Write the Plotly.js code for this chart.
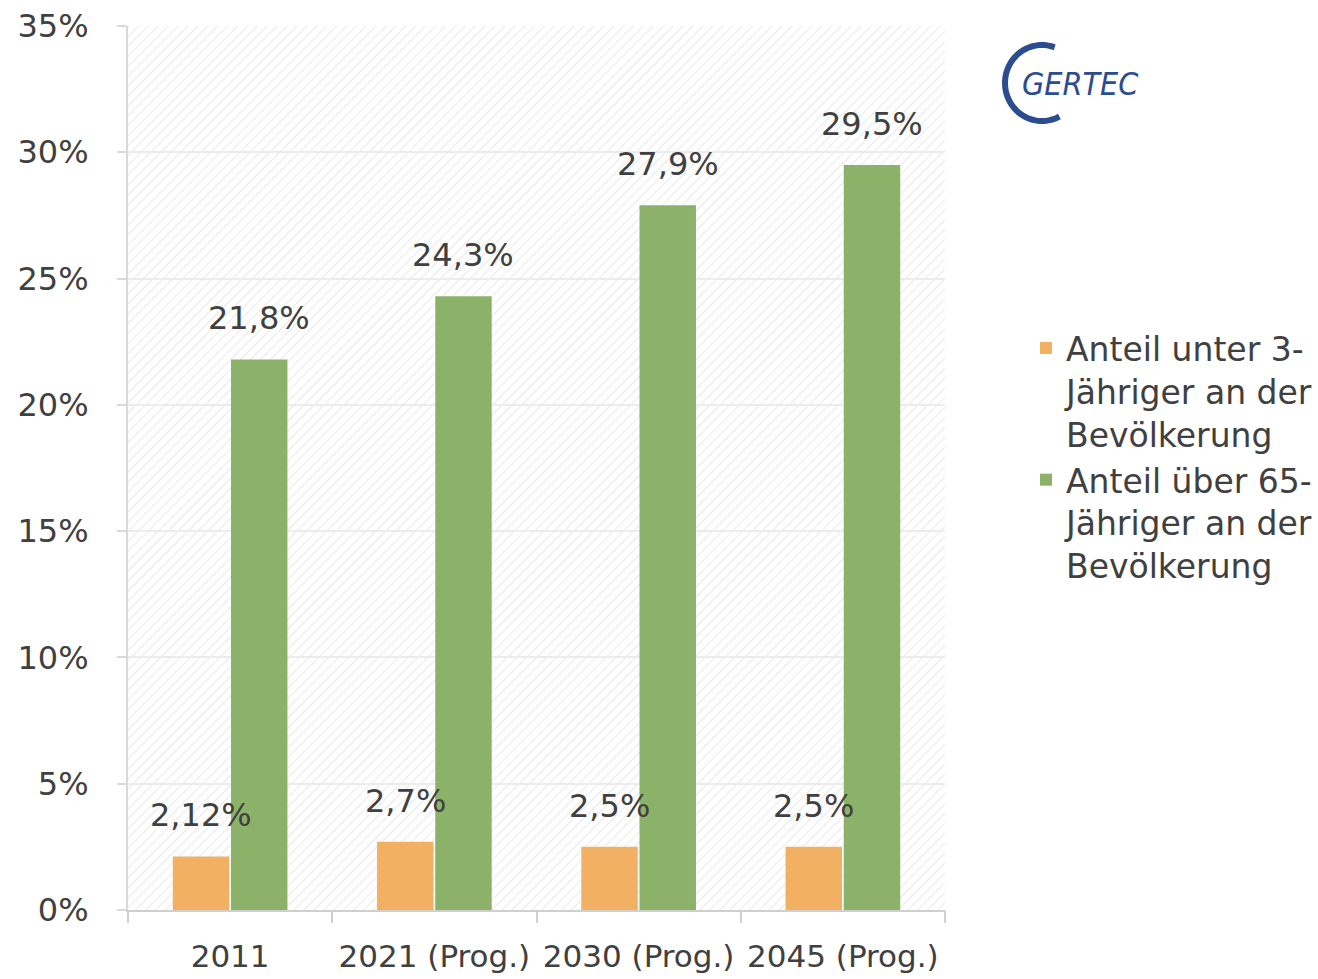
<!DOCTYPE html>
<html>
<head>
<meta charset="utf-8">
<script src="https://cdn.plot.ly/plotly-3.0.1.min.js"></script>
<style>
  html, body { margin: 0; padding: 0; background: #ffffff; }
  #chart { width: 1318px; height: 979px; }
</style>
</head>
<body>
<div id="chart"></div>
<script>
// ---- data ----
const categories = ["2011", "2021 (Prog.)", "2030 (Prog.)", "2045 (Prog.)"];
const seriesNames = [
  "Anteil unter 3-<br>Jähriger an der<br>Bevölkerung",
  "Anteil über 65-<br>Jähriger an der<br>Bevölkerung"
];
const under3 = [2.12, 2.7, 2.5, 2.5];
const over65 = [21.8, 24.3, 27.9, 29.5];
const yTickVals = [0, 5, 10, 15, 20, 25, 30, 35];
const logoText = "GERTEC";

// ---- layout constants ----
const W = 1318, H = 979;
const M = { l: 128, r: 373, t: 26, b: 69, autoexpand: false };
const PW = W - M.l - M.r, PH = H - M.t - M.b;
const px2x = p => (p - M.l) / PW;
const py2y = p => (H - M.b - p) / PH;

const FONT = "DejaVu Sans, Liberation Sans, Arial, sans-serif";
const TXT = "#404040";
const colors = ["#F2B063", "#8BB268"];

const fmt = v => String(v).replace(".", ",") + "%";
const idx = categories.map((c, i) => i);

const traces = [
  { type: "bar", name: seriesNames[0], x: idx, y: under3,
    marker: { color: colors[0] }, hoverinfo: "none" },
  { type: "bar", name: seriesNames[1], x: idx, y: over65,
    marker: { color: colors[1] }, hoverinfo: "none" }
];

// data labels
const annotations = [];
[under3, over65].forEach((vals, si) => {
  vals.forEach((v, i) => {
    annotations.push({
      x: i, y: v, xref: "x", yref: "y",
      text: fmt(v), showarrow: false,
      xshift: si === 0 ? -29 : 29, yshift: 20,
      yanchor: "bottom", xanchor: "center",
      font: { family: FONT, size: 32, color: TXT }
    });
  });
});

// logo text
annotations.push({
  xref: "paper", yref: "paper", x: px2x(1020), y: py2y(84),
  xanchor: "left", yanchor: "middle", showarrow: false,
  text: "<i>" + logoText + "</i>",
  font: { family: "Liberation Sans Narrow, DejaVu Sans Condensed, sans-serif", size: 32, color: "#2B4C8F" }
});

// logo arc (decoration): from top-right, counter-clockwise via left, to bottom-right
const cx = 1042, cy = 83, rx = 37, ry = 38;
const pts = [];
for (let deg = 70; deg <= 300; deg += 4) {
  const r = deg * Math.PI / 180;
  pts.push([cx + rx * Math.cos(r), cy - ry * Math.sin(r)]);
}
const arc = pts.map((p, i) => (i ? "L" : "M") + px2x(p[0]).toFixed(5) + "," + py2y(p[1]).toFixed(5)).join(" ");

// hatch background as SVG pattern image
const hatchSvg =
  '<svg xmlns="http://www.w3.org/2000/svg" width="' + PW + '" height="' + PH + '">' +
  '<defs><pattern id="h" width="7" height="7" patternUnits="userSpaceOnUse" patternTransform="rotate(45)">' +
  '<line x1="0" y1="0" x2="0" y2="7" stroke="#e9e9e9" stroke-width="2"/></pattern></defs>' +
  '<rect width="100%" height="100%" fill="url(#h)"/></svg>';

const layout = {
  width: W, height: H,
  margin: M,
  paper_bgcolor: "#ffffff",
  plot_bgcolor: "rgba(0,0,0,0)",
  barmode: "group",
  bargap: 0.43,
  bargroupgap: 0.03,
  font: { family: FONT, color: TXT, size: 32 },
  xaxis: {
    type: "linear",
    range: [-0.5, categories.length - 0.5],
    tickvals: idx,
    ticktext: categories,
    ticks: "",
    showline: true, linecolor: "#cfcfcf", linewidth: 2,
    showgrid: false, zeroline: false,
    tickfont: { family: FONT, size: 31, color: TXT },
    ticklabelstandoff: 18,
    automargin: false,
    fixedrange: true
  },
  xaxis2: {
    overlaying: "x", matches: "x", anchor: "y",
    range: [-0.5, categories.length - 0.5],
    tickvals: idx.concat([categories.length]).map(v => v - 0.5),
    ticktext: idx.concat([categories.length]).map(() => ""),
    ticks: "outside", ticklen: 12, tickwidth: 2, tickcolor: "#cfcfcf",
    showgrid: false, zeroline: false, showline: false,
    side: "bottom", fixedrange: true
  },
  yaxis: {
    range: [0, 35],
    tickvals: yTickVals,
    ticktext: yTickVals.map(v => v + "%"),
    ticks: "outside", ticklen: 9, tickwidth: 2, tickcolor: "#d9d9d9",
    showline: true, linecolor: "#d9d9d9", linewidth: 2,
    showgrid: true, gridcolor: "#ececec", gridwidth: 2,
    zeroline: false,
    tickfont: { family: FONT, size: 32, color: TXT },
    ticklabelstandoff: 22,
    automargin: false,
    fixedrange: true
  },
  legend: {
    x: px2x(1026), y: py2y(320), xanchor: "left", yanchor: "top",
    valign: "top",
    font: { family: FONT, size: 33, color: TXT },
    itemwidth: 30,
    tracegroupgap: 12,
    bgcolor: "rgba(0,0,0,0)"
  },
  showlegend: true,
  annotations: annotations,
  shapes: [
    { type: "path", xref: "paper", yref: "paper", path: arc,
      line: { color: "#2B4C8F", width: 6 } }
  ],
  images: [
    { source: "data:image/svg+xml;charset=utf-8," + encodeURIComponent(hatchSvg),
      xref: "paper", yref: "paper", x: 0, y: 1, sizex: 1, sizey: 1,
      sizing: "stretch", xanchor: "left", yanchor: "top", layer: "below" }
  ]
};

// invisible helper trace to show boundary ticks on xaxis2
traces.push({ type: "scatter", x: [0], y: [0], xaxis: "x2", yaxis: "y",
  mode: "markers", marker: { opacity: 0 }, showlegend: false, hoverinfo: "none" });

Plotly.newPlot("chart", traces, layout, { displayModeBar: false, staticPlot: true });
</script>
</body>
</html>
